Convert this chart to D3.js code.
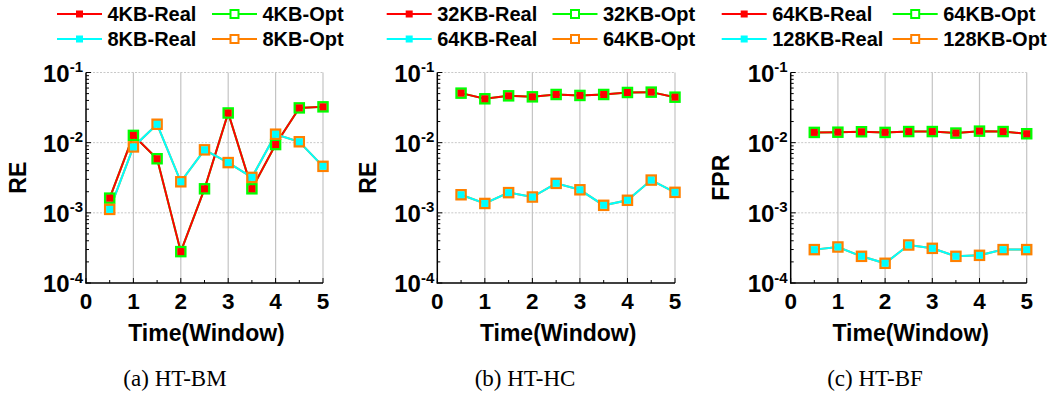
<!DOCTYPE html>
<html>
<head>
<meta charset="utf-8">
<script src="https://cdn.jsdelivr.net/npm/d3@7"></script>
<style>
  html, body { margin: 0; padding: 0; background: #fff; }
  svg { display: block; }
</style>
</head>
<body>
<svg id="fig" width="1051" height="397"></svg>
<script>
// Time windows (x values)
const windows = [0.5, 1, 1.5, 2, 2.5, 3, 3.5, 4, 4.5, 5];
const xTicks = [0, 1, 2, 3, 4, 5];
const yTickExps = [-4, -3, -2, -1];

// HT-BM relative error
const bmReal4 = [1.62e-3, 1.27e-2, 5.9e-3, 2.8e-4, 2.2e-3, 2.65e-2, 2.2e-3, 9.4e-3, 3.13e-2, 3.24e-2];
const bmOpt4  = [1.62e-3, 1.27e-2, 5.9e-3, 2.8e-4, 2.2e-3, 2.65e-2, 2.2e-3, 9.4e-3, 3.13e-2, 3.24e-2];
const bmReal8 = [1.12e-3, 8.7e-3, 1.83e-2, 2.77e-3, 7.9e-3, 5.2e-3, 3.2e-3, 1.32e-2, 1.03e-2, 4.6e-3];
const bmOpt8  = [1.12e-3, 8.7e-3, 1.83e-2, 2.77e-3, 7.9e-3, 5.2e-3, 3.2e-3, 1.32e-2, 1.03e-2, 4.6e-3];

// HT-HC relative error
const hcReal32 = [5.08e-2, 4.22e-2, 4.65e-2, 4.5e-2, 4.86e-2, 4.71e-2, 4.86e-2, 5.19e-2, 5.25e-2, 4.45e-2];
const hcOpt32  = [5.08e-2, 4.22e-2, 4.65e-2, 4.5e-2, 4.86e-2, 4.71e-2, 4.86e-2, 5.19e-2, 5.25e-2, 4.45e-2];
const hcReal64 = [1.81e-3, 1.36e-3, 1.94e-3, 1.68e-3, 2.63e-3, 2.13e-3, 1.28e-3, 1.51e-3, 2.93e-3, 1.96e-3];
const hcOpt64  = [1.81e-3, 1.36e-3, 1.94e-3, 1.68e-3, 2.63e-3, 2.13e-3, 1.28e-3, 1.51e-3, 2.93e-3, 1.96e-3];

// HT-BF false positive rate
const bfReal64  = [1.40e-2, 1.41e-2, 1.43e-2, 1.40e-2, 1.44e-2, 1.44e-2, 1.37e-2, 1.46e-2, 1.44e-2, 1.34e-2];
const bfOpt64   = [1.40e-2, 1.41e-2, 1.43e-2, 1.40e-2, 1.44e-2, 1.44e-2, 1.37e-2, 1.46e-2, 1.44e-2, 1.34e-2];
const bfReal128 = [2.99e-4, 3.26e-4, 2.40e-4, 1.91e-4, 3.48e-4, 3.12e-4, 2.40e-4, 2.48e-4, 2.99e-4, 2.99e-4];
const bfOpt128  = [2.99e-4, 3.26e-4, 2.40e-4, 1.91e-4, 3.48e-4, 3.12e-4, 2.40e-4, 2.48e-4, 2.99e-4, 2.99e-4];

const COLORS = { realA: "#ff0000", optA: "#00ff00", realB: "#00ffff", optB: "#ff8000" };

const panels = [
  { left: 86, right: 323, ylabel: "RE", caption: "(a) HT-BM",
    labels: ["4KB-Real", "4KB-Opt", "8KB-Real", "8KB-Opt"],
    legX: [57, 212], series: [bmReal4, bmOpt4, bmReal8, bmOpt8] },
  { left: 437.3, right: 675, ylabel: "RE", caption: "(b) HT-HC",
    labels: ["32KB-Real", "32KB-Opt", "64KB-Real", "64KB-Opt"],
    legX: [386.7, 552.5], series: [hcReal32, hcOpt32, hcReal64, hcOpt64] },
  { left: 790.7, right: 1026.7, ylabel: "FPR", caption: "(c) HT-BF",
    labels: ["64KB-Real", "64KB-Opt", "128KB-Real", "128KB-Opt"],
    legX: [721.7, 892.7], series: [bfReal64, bfOpt64, bfReal128, bfOpt128] }
];

const TOP = 72.5, BOTTOM = 283;
const svg = d3.select("#fig");
const sans = "'Liberation Sans', Arial, sans-serif";
const serif = "'Liberation Serif', 'Times New Roman', serif";

panels.forEach((p, pi) => {
  const g = svg.append("g");
  const x = d3.scaleLinear().domain([0, 5]).range([p.left, p.right]);
  const y = d3.scaleLog().domain([1e-4, 1e-1]).range([BOTTOM, TOP]);
  const cx = (p.left + p.right) / 2;
  const subCenter = 175 + pi * 350;

  // horizontal dotted grid at decades
  g.selectAll("line.hgrid").data([1e-3, 1e-2, 1e-1]).join("line")
    .attr("x1", p.left).attr("x2", p.right)
    .attr("y1", d => y(d)).attr("y2", d => y(d))
    .attr("stroke", "#c8c8c8").attr("stroke-width", 1).attr("stroke-dasharray", "2,1.5");

  // vertical solid grid at integer windows
  g.selectAll("line.vgrid").data([1, 2, 3, 4, 5]).join("line")
    .attr("x1", d => x(d)).attr("x2", d => x(d))
    .attr("y1", TOP).attr("y2", BOTTOM)
    .attr("stroke", "#c4c4c4").attr("stroke-width", 1.2);

  // minor log ticks on y axis (inward)
  const minor = [];
  for (let e = -4; e < -1 + 0.001; e++) {
    for (let k = 2; k <= 9; k++) {
      const v = k * Math.pow(10, e);
      if (v < 1e-1) minor.push(v);
    }
  }
  g.selectAll("line.ymin").data(minor).join("line")
    .attr("x1", p.left).attr("x2", p.left + 3)
    .attr("y1", d => y(d)).attr("y2", d => y(d))
    .attr("stroke", "#000").attr("stroke-width", 1);
  g.selectAll("line.ymaj").data(yTickExps.map(e => Math.pow(10, e))).join("line")
    .attr("x1", p.left).attr("x2", p.left + 5)
    .attr("y1", d => y(d)).attr("y2", d => y(d))
    .attr("stroke", "#000").attr("stroke-width", 1);

  // x ticks (inward), majors and half-window minors
  g.selectAll("line.xmaj").data(xTicks).join("line")
    .attr("x1", d => x(d)).attr("x2", d => x(d))
    .attr("y1", BOTTOM).attr("y2", BOTTOM - 5)
    .attr("stroke", "#000").attr("stroke-width", 1);
  g.selectAll("line.xmin").data([0.5, 1.5, 2.5, 3.5, 4.5]).join("line")
    .attr("x1", d => x(d)).attr("x2", d => x(d))
    .attr("y1", BOTTOM).attr("y2", BOTTOM - 3)
    .attr("stroke", "#000").attr("stroke-width", 1);

  // axis lines
  g.append("line").attr("x1", p.left).attr("x2", p.left).attr("y1", TOP).attr("y2", BOTTOM + 0.5)
    .attr("stroke", "#000").attr("stroke-width", 1.5);
  g.append("line").attr("x1", p.left - 0.5).attr("x2", p.right).attr("y1", BOTTOM).attr("y2", BOTTOM)
    .attr("stroke", "#000").attr("stroke-width", 1.5);

  // x tick labels
  g.selectAll("text.xt").data(xTicks).join("text")
    .attr("x", d => x(d)).attr("y", 308.5)
    .attr("text-anchor", "middle")
    .attr("font-family", sans).attr("font-weight", "bold").attr("font-size", 22.5)
    .text(d => d);

  // y tick labels 10^n
  yTickExps.forEach(e => {
    const t = g.append("text")
      .attr("x", p.left - 3).attr("y", y(Math.pow(10, e)) + 9)
      .attr("text-anchor", "end")
      .attr("font-family", sans).attr("font-weight", "bold").attr("font-size", 24);
    t.append("tspan").text("10");
    t.append("tspan").attr("font-size", 15).attr("dy", -9.5).text(String(e));
  });

  // axis titles
  g.append("text")
    .attr("transform", `translate(${pi === 2 ? 729 : pi === 1 ? 375.5 : 25.5},${(TOP + BOTTOM) / 2}) rotate(-90)`)
    .attr("text-anchor", "middle")
    .attr("font-family", sans).attr("font-weight", "bold").attr("font-size", 23)
    .text(p.ylabel);
  g.append("text")
    .attr("x", cx + 2).attr("y", 341)
    .attr("text-anchor", "middle")
    .attr("font-family", sans).attr("font-weight", "bold").attr("font-size", 23)
    .text("Time(Window)");

  // caption
  g.append("text")
    .attr("x", subCenter).attr("y", 385.5)
    .attr("text-anchor", "middle")
    .attr("font-family", serif).attr("font-size", 23)
    .text(p.caption);

  // series: Opt drawn first (hollow squares), Real on top (filled squares)
  const line = d3.line().x((d, i) => x(windows[i])).y(d => y(d));
  const order = [
    { vals: p.series[1], color: COLORS.optA, opt: true },
    { vals: p.series[3], color: COLORS.optB, opt: true },
    { vals: p.series[0], color: COLORS.realA, opt: false },
    { vals: p.series[2], color: COLORS.realB, opt: false }
  ];
  order.forEach(s => {
    g.append("path").datum(s.vals)
      .attr("d", line).attr("fill", "none")
      .attr("stroke", s.color).attr("stroke-width", 2);
  });
  order.filter(s => s.opt).forEach(s => {
    g.selectAll(null).data(s.vals).join("rect")
      .attr("x", (d, i) => x(windows[i]) - 4.5).attr("y", d => y(d) - 4.5)
      .attr("width", 9).attr("height", 9)
      .attr("fill", "none").attr("stroke", s.color).attr("stroke-width", 2.5);
  });
  order.filter(s => !s.opt).forEach(s => {
    g.selectAll(null).data(s.vals).join("rect")
      .attr("x", (d, i) => x(windows[i]) - 3.5).attr("y", d => y(d) - 3.5)
      .attr("width", 7).attr("height", 7)
      .attr("fill", s.color);
  });

  // legend
  const legendItems = [
    { label: p.labels[0], color: COLORS.realA, opt: false, col: 0, row: 0 },
    { label: p.labels[1], color: COLORS.optA, opt: true, col: 1, row: 0 },
    { label: p.labels[2], color: COLORS.realB, opt: false, col: 0, row: 1 },
    { label: p.labels[3], color: COLORS.optB, opt: true, col: 1, row: 1 }
  ];
  legendItems.forEach(it => {
    const lx = p.legX[it.col];
    const ly = it.row === 0 ? 14 : 39;
    g.append("line").attr("x1", lx).attr("x2", lx + 45).attr("y1", ly).attr("y2", ly)
      .attr("stroke", it.color).attr("stroke-width", 2);
    if (it.opt) {
      g.append("rect").attr("x", lx + 22.5 - 4).attr("y", ly - 4).attr("width", 8).attr("height", 8)
        .attr("fill", "#fff").attr("stroke", it.color).attr("stroke-width", 2);
    } else {
      g.append("rect").attr("x", lx + 22.5 - 3.5).attr("y", ly - 3.5).attr("width", 7).attr("height", 7)
        .attr("fill", it.color);
    }
    g.append("text").attr("x", lx + 50.5).attr("y", ly + 7)
      .attr("font-family", sans).attr("font-weight", "bold").attr("font-size", 20)
      .text(it.label);
  });
});
</script>
</body>
</html>
